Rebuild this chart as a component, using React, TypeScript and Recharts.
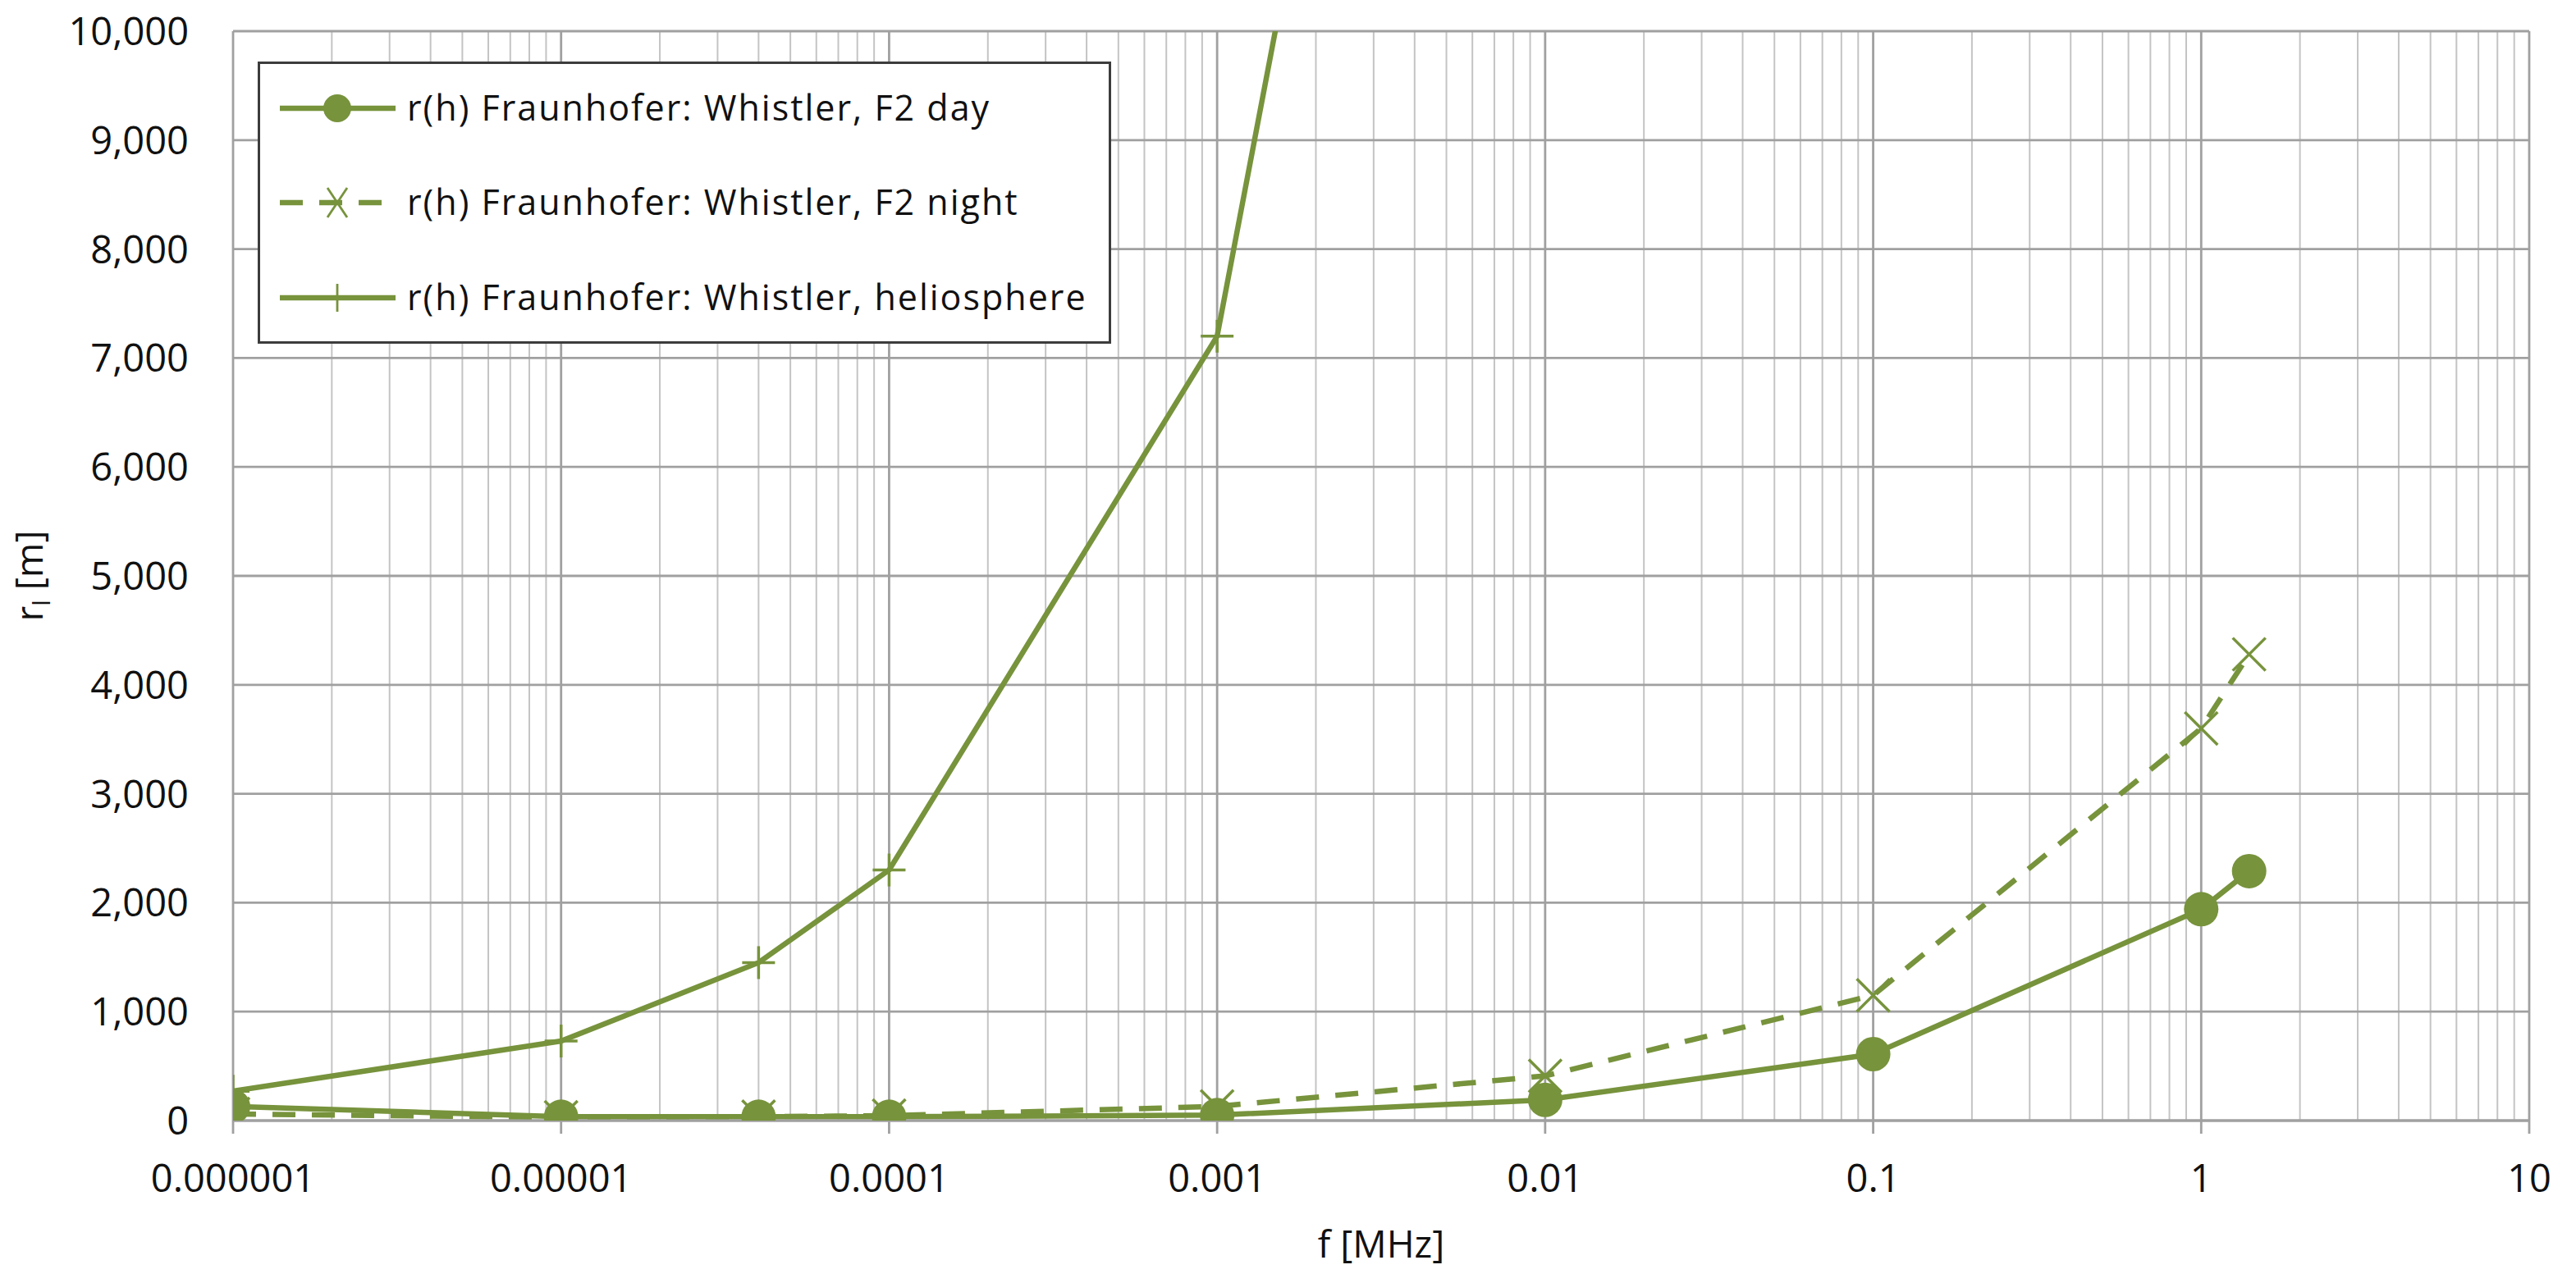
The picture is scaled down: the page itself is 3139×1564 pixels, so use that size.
import React from 'react';
import { LineChart, Line, XAxis, YAxis, CartesianGrid, Legend } from 'recharts';

// ---- data ----
const freqMHz = [0.000001, 0.00001, 0.00004, 0.0001, 0.001, 0.01, 0.1, 1, 1.4];
const f2Day = [130, 35, 35, 35, 50, 190, 610, 1940, 2290];
const f2Night = [60, 30, 35, 45, 130, 410, 1150, 3600, 4280];
const helioFreq = [0.000001, 0.00001, 0.00004, 0.0001, 0.001, 0.01];
const helio = [270, 730, 1450, 2300, 7200, 23000];

const seriesNames = [
  'r(h) Fraunhofer: Whistler, F2 day',
  'r(h) Fraunhofer: Whistler, F2 night',
  'r(h) Fraunhofer: Whistler, heliosphere',
];

const xTicks = [0.000001, 0.00001, 0.0001, 0.001, 0.01, 0.1, 1, 10];
const xTickLabels = ['0.000001', '0.00001', '0.0001', '0.001', '0.01', '0.1', '1', '10'];
const minorMultipliers = [2, 3, 4, 5, 6, 7, 8, 9];
const xMinorTicks = xTicks.slice(0, -1).flatMap((d) => minorMultipliers.map((m) => d * m));
const yTicks = [0, 1000, 2000, 3000, 4000, 5000, 6000, 7000, 8000, 9000, 10000];

const dayData = freqMHz.map((x, i) => ({ x, y: f2Day[i] }));
const nightData = freqMHz.map((x, i) => ({ x, y: f2Night[i] }));
const helioData = helioFreq.map((x, i) => ({ x, y: helio[i] }));

// ---- style ----
const GREEN = '#77933c';
const FONT = "'Open Sans', 'Liberation Sans', sans-serif";
const TEXT = '#111111';
const LINE_W = 6.5;
const DASH = '28 20';

const CircleDot = (props: any) => {
  const { cx, cy, index } = props;
  if (cx == null || cy == null) return <g key={`c-${index}`} />;
  return <circle key={`c-${index}`} cx={cx} cy={cy} r={21} fill={GREEN} stroke="none" />;
};

const CrossDot = (props: any) => {
  const { cx, cy, index } = props;
  if (cx == null || cy == null) return <g key={`x-${index}`} />;
  const s = 20;
  return (
    <g key={`x-${index}`} stroke={GREEN} strokeWidth={3.5}>
      <line x1={cx - s} y1={cy - s} x2={cx + s} y2={cy + s} />
      <line x1={cx - s} y1={cy + s} x2={cx + s} y2={cy - s} />
    </g>
  );
};

const PlusDot = (props: any) => {
  const { cx, cy, index } = props;
  if (cx == null || cy == null) return <g key={`p-${index}`} />;
  const s = 20;
  return (
    <g key={`p-${index}`} stroke={GREEN} strokeWidth={3.5}>
      <line x1={cx - s} y1={cy} x2={cx + s} y2={cy} />
      <line x1={cx} y1={cy - s} x2={cx} y2={cy + s} />
    </g>
  );
};

const XTick = (props: any) => {
  const { x, y, payload } = props;
  const idx = xTicks.findIndex((t) => Math.abs(t - payload.value) / t < 1e-6);
  const label = idx >= 0 ? xTickLabels[idx] : String(payload.value);
  return (
    <text x={x} y={y + 71} textAnchor="middle" fontFamily={FONT} fontSize={47} fill={TEXT}>
      {label}
    </text>
  );
};

const YTick = (props: any) => {
  const { x, y, payload } = props;
  return (
    <text x={x} y={y + 17} textAnchor="end" fontFamily={FONT} fontSize={47} fill={TEXT}>
      {Number(payload.value).toLocaleString('en-US')}
    </text>
  );
};

const YTitle = (props: any) => {
  const vb = props.viewBox || {};
  const cy = (vb.y ?? 38) + (vb.height ?? 1328) / 2;
  const x = 52;
  return (
    <text
      x={x}
      y={cy}
      transform={`rotate(-90, ${x}, ${cy})`}
      textAnchor="middle"
      fontFamily={FONT}
      fontSize={46}
      fill={TEXT}
    >
      <tspan>r</tspan>
      <tspan fontSize={30} dy={9}>l</tspan>
      <tspan dy={-9}> [m]</tspan>
    </text>
  );
};

const XTitle = (props: any) => {
  const vb = props.viewBox || {};
  const cx = (vb.x ?? 284) + (vb.width ?? 2798) / 2;
  return (
    <text x={cx} y={1533} textAnchor="middle" fontFamily={FONT} fontSize={46} fill={TEXT}>
      f [MHz]
    </text>
  );
};

const LegendBox = (props: any) => {
  const payload = props.payload || [];
  const rowY = [54, 169, 285];
  return (
    <div
      style={{
        boxSizing: 'border-box',
        width: 1040,
        height: 344,
        border: '3px solid #3c3c3c',
        background: '#ffffff',
      }}
    >
      <svg width={1034} height={338} style={{ display: 'block' }}>
        {payload.map((entry: any, i: number) => {
          const cy = rowY[i];
          const name = entry.value;
          const idx = seriesNames.indexOf(name);
          const mx = 94;
          return (
            <g key={`leg-${i}`}>
              <line
                x1={24}
                y1={cy}
                x2={165}
                y2={cy}
                stroke={GREEN}
                strokeWidth={LINE_W}
                strokeDasharray={idx === 1 ? DASH : undefined}
              />
              {idx === 0 && <circle cx={mx} cy={cy} r={17} fill={GREEN} />}
              {idx === 1 && (
                <g stroke={GREEN} strokeWidth={2.8}>
                  <line x1={mx - 12} y1={cy - 18} x2={mx + 12} y2={cy + 18} />
                  <line x1={mx - 12} y1={cy + 18} x2={mx + 12} y2={cy - 18} />
                </g>
              )}
              {idx === 2 && (
                <g stroke={GREEN} strokeWidth={2.8}>
                  <line x1={mx} y1={cy - 17} x2={mx} y2={cy + 17} />
                </g>
              )}
              <text
                x={179}
                y={cy + 15}
                fontFamily={FONT}
                fontSize={43}
                letterSpacing={2}
                fill={TEXT}
              >
                {name}
              </text>
            </g>
          );
        })}
      </svg>
    </div>
  );
};

export default function App() {
  return (
    <div style={{ position: 'absolute', left: 0, top: 0, background: '#ffffff' }}>
      <LineChart
        width={3139}
        height={1564}
        margin={{ top: 38, right: 57, bottom: 0, left: 0 }}
      >
        <CartesianGrid
          horizontal={false}
          verticalValues={xMinorTicks}
          stroke="#c4c4c4"
          strokeWidth={2}
        />
        <CartesianGrid
          verticalValues={xTicks}
          horizontalValues={yTicks}
          stroke="#a0a0a0"
          strokeWidth={2.8}
        />
        <XAxis
          dataKey="x"
          type="number"
          scale="log"
          domain={[0.000001, 10]}
          allowDataOverflow
          ticks={xTicks}
          interval={0}
          height={198}
          tickSize={16}
          tickMargin={0}
          axisLine={{ stroke: '#a0a0a0', strokeWidth: 2.8 }}
          tickLine={{ stroke: '#a0a0a0', strokeWidth: 2.8 }}
          tick={<XTick />}
          label={<XTitle />}
        />
        <YAxis
          type="number"
          domain={[0, 10000]}
          allowDataOverflow
          ticks={yTicks}
          interval={0}
          width={284}
          tickSize={0}
          tickMargin={54}
          axisLine={false}
          tickLine={false}
          tick={<YTick />}
          label={<YTitle />}
        />
        <Legend
          layout="horizontal"
          verticalAlign="middle"
          align="center"
          wrapperStyle={{ position: 'absolute', left: 314, top: 75, width: 1040, height: 344, margin: 0 }}
          content={<LegendBox />}
        />
        <Line
          data={nightData}
          dataKey="y"
          name={seriesNames[1]}
          stroke={GREEN}
          strokeWidth={LINE_W}
          strokeDasharray={DASH}
          dot={CrossDot}
          activeDot={false}
          isAnimationActive={false}
        />
        <Line
          data={dayData}
          dataKey="y"
          name={seriesNames[0]}
          stroke={GREEN}
          strokeWidth={LINE_W}
          dot={CircleDot}
          activeDot={false}
          isAnimationActive={false}
        />
        <Line
          data={helioData}
          dataKey="y"
          name={seriesNames[2]}
          stroke={GREEN}
          strokeWidth={LINE_W}
          dot={PlusDot}
          activeDot={false}
          isAnimationActive={false}
        />
      </LineChart>
    </div>
  );
}
